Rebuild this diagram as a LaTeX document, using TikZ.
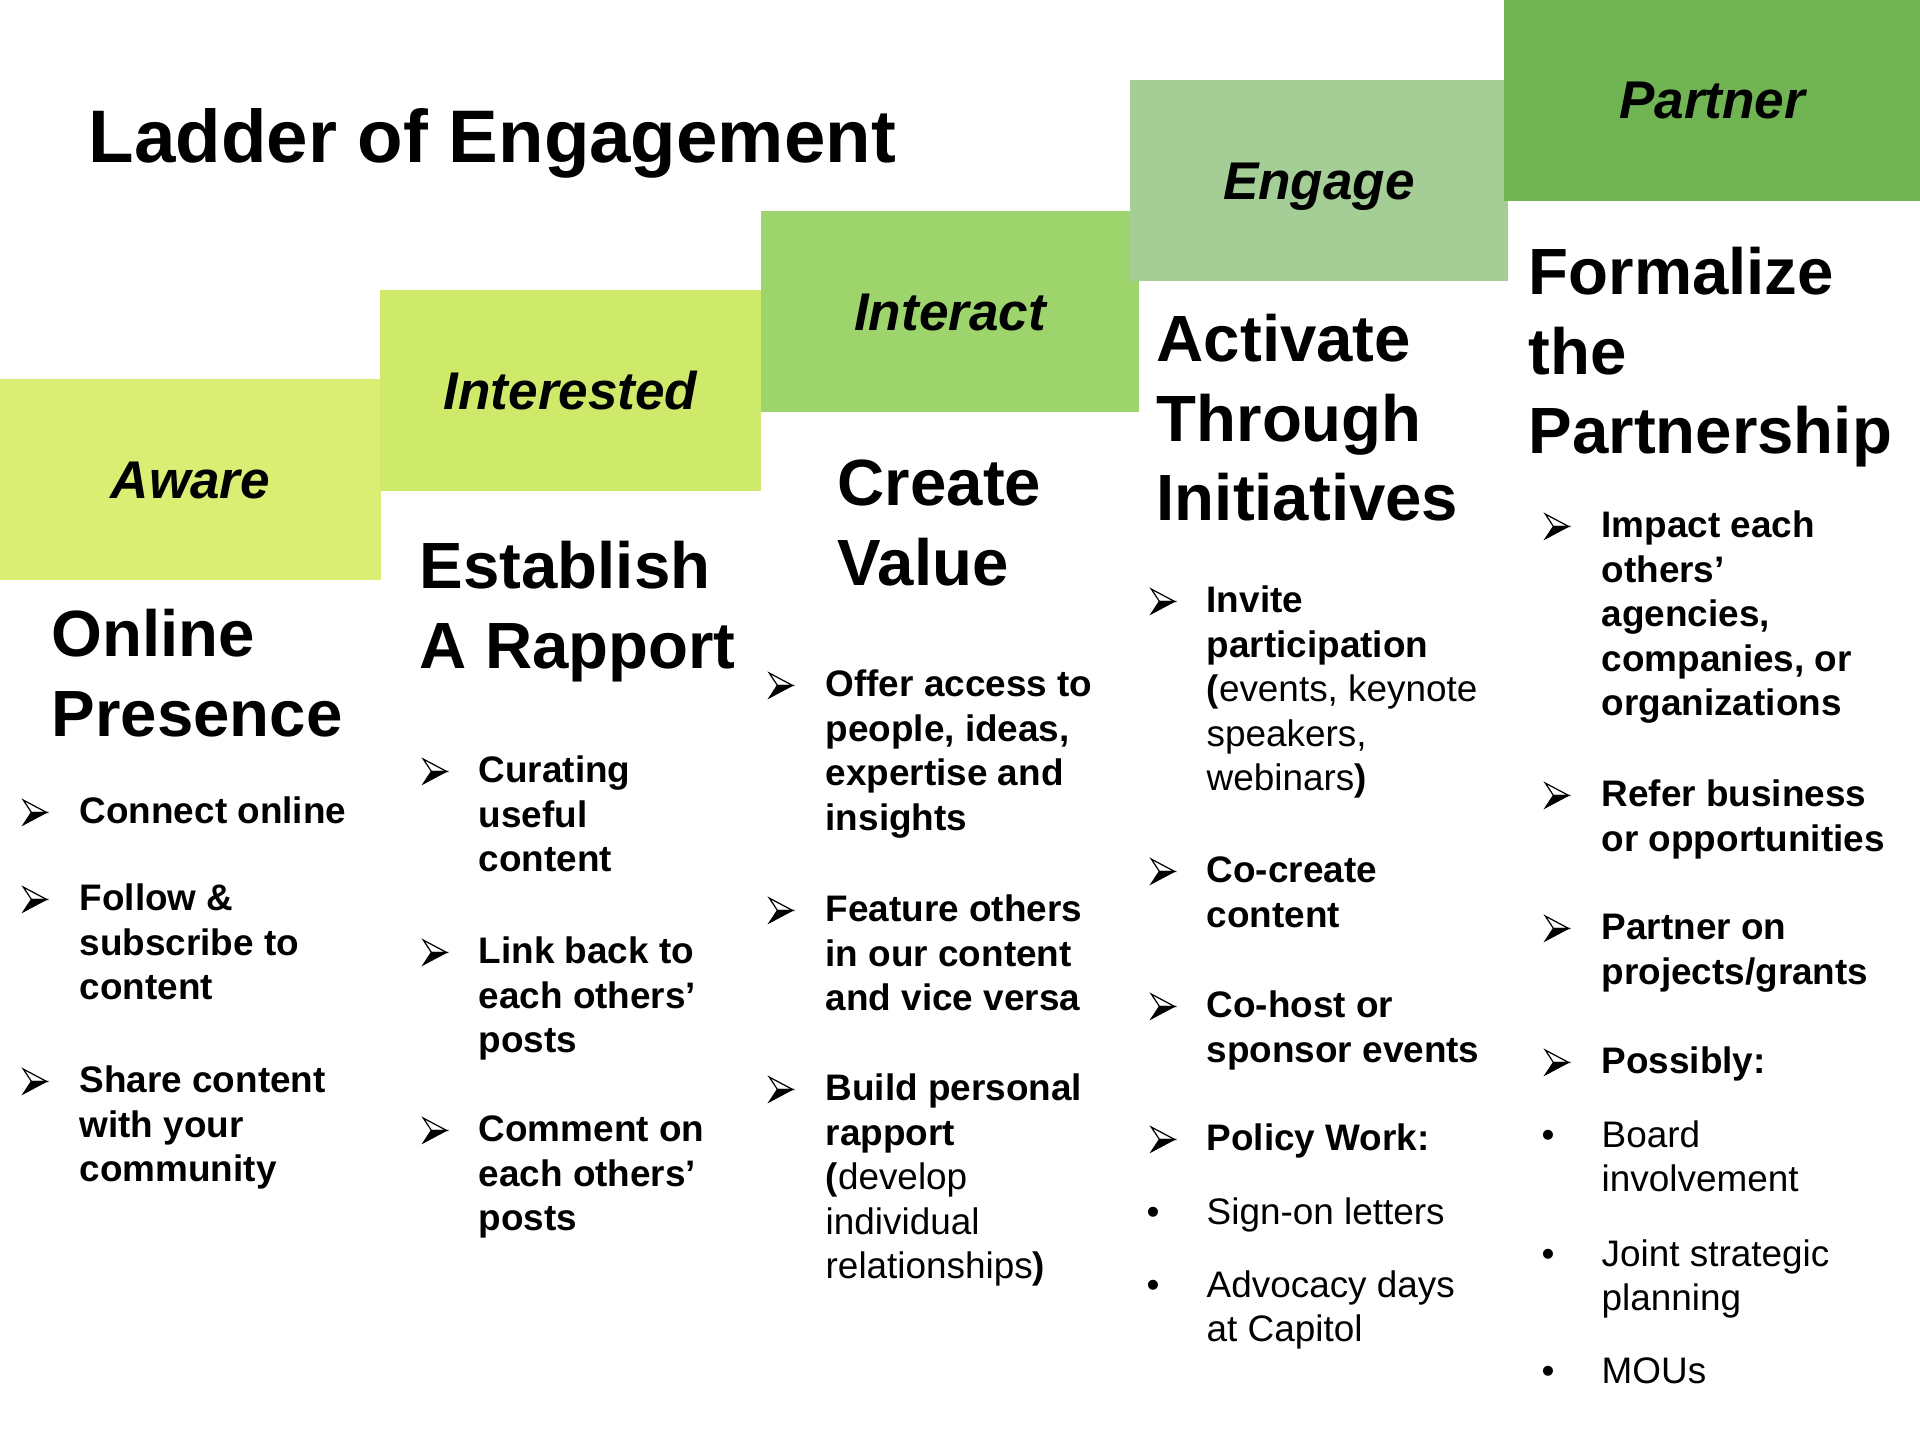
\documentclass[tikz,border=0pt]{standalone}
\usepackage{fontspec}
\setmainfont{Liberation Sans}
\usepackage{tikz}

\definecolor{awaregreen}{RGB}{218,238,115}
\definecolor{interestedgreen}{RGB}{207,234,107}
\definecolor{interactgreen}{RGB}{157,212,108}
\definecolor{engagegreen}{RGB}{165,205,150}
\definecolor{partnergreen}{RGB}{113,180,84}

% lines stacked under the first one, which carries the baseline
\newcommand{\stack}[1]{\begin{tabular}[t]{@{}l@{}}#1\end{tabular}}
% arrowhead bullet: light upper half, dark lower half
\newcommand{\pointer}{\tikz[x=1pt,y=1pt,baseline=0pt]{%
    \filldraw[fill=white, line width=0.35pt, line join=miter] (0,6.8) -- (6.6,3.3) -- (2.3,3.3) -- cycle;
    \filldraw[line width=0.35pt, line join=miter] (0,-0.2) -- (6.6,3.3) -- (2.3,3.3) -- cycle;}}

\tikzset{
  stepbox/.style={rectangle, inner sep=0pt, minimum height=20.1mm,
    font=\bfseries\itshape\fontsize{15.1}{18}\selectfont,
    text height=10.8pt, text depth=0pt},
  headline/.style={anchor=base west, inner sep=0pt,
    font=\bfseries\fontsize{18.6}{22.5}\selectfont},
  entry/.style={anchor=base west, inner sep=0pt,
    font=\bfseries\fontsize{10.5}{12.66}\selectfont},
  plainentry/.style={entry, font=\fontsize{10.5}{12.66}\selectfont},
  arrowmark/.style={anchor=base west, inner sep=0pt},
  bulletmark/.style={anchor=base west, inner sep=0pt,
    font=\fontsize{10.5}{12.66}\selectfont},
}

\begin{document}
\begin{tikzpicture}[x=0.1mm,y=-0.1mm]
    % Page
    \fill[white] (0,0) rectangle (1920,1440);
    \useasboundingbox (0,0) rectangle (1920,1440);

    % Title
    \node[anchor=base west, inner sep=0pt, font=\bfseries\fontsize{21.2}{25}\selectfont]
        (title) at (88,163) {Ladder of Engagement};

    % Steps, each one laid over the one before
    \node[stepbox, fill=awaregreen, minimum width=38.1mm] (aware) at (190.5,479.5) {Aware};
    \node[stepbox, fill=interestedgreen, minimum width=38.1mm] (interested) at (570.5,390.5) {Interested};
    \node[stepbox, fill=interactgreen, minimum width=37.8mm] (interact) at (950,311.5) {Interact};
    \node[stepbox, fill=engagegreen, minimum width=37.8mm] (engage) at (1319,180.5) {Engage};
    \node[stepbox, fill=partnergreen, minimum width=41.6mm, minimum height=20.2mm] (partner) at (1712,100) {Partner};

    % Aware
    \node[headline] (head1) at (51,657) {\stack{Online\\Presence}};
    \node[arrowmark] (m11) at (22,824) {\pointer};
    \node[entry] (t11) at (79,824) {Connect online};
    \node[arrowmark] (m12) at (22,911) {\pointer};
    \node[entry] (t12) at (79,911) {\stack{Follow \&\\subscribe to\\content}};
    \node[arrowmark] (m13) at (22,1093) {\pointer};
    \node[entry] (t13) at (79,1093) {\stack{Share content\\with your\\community}};

    % Interested
    \node[headline] (head2) at (419,589) {\stack{Establish\\A Rapport}};
    \node[arrowmark] (m21) at (422,783) {\pointer};
    \node[entry] (t21) at (478,783) {\stack{Curating\\useful\\content}};
    \node[arrowmark] (m22) at (422,964) {\pointer};
    \node[entry] (t22) at (478,964) {\stack{Link back to\\each others’\\posts}};
    \node[arrowmark] (m23) at (422,1142) {\pointer};
    \node[entry] (t23) at (478,1142) {\stack{Comment on\\each others’\\posts}};

    % Interact
    \node[headline] (head3) at (837,506) {\stack{Create\\Value}};
    \node[arrowmark] (m31) at (768,697) {\pointer};
    \node[entry] (t31) at (825,697) {\stack{Offer access to\\people, ideas,\\expertise and\\insights}};
    \node[arrowmark] (m32) at (768,922) {\pointer};
    \node[entry] (t32) at (825,922) {\stack{Feature others\\in our content\\and vice versa}};
    \node[arrowmark] (m33) at (768,1101) {\pointer};
    \node[entry] (t33) at (825,1101) {\stack{Build personal\\rapport\\({\mdseries develop}\\{\mdseries individual}\\{\mdseries relationships})}};

    % Engage
    \node[headline] (head4) at (1156,362) {\stack{Activate\\Through\\Initiatives}};
    \node[arrowmark] (m41) at (1150,613) {\pointer};
    \node[entry] (t41) at (1206,613) {\stack{Invite\\participation\\({\mdseries events, keynote}\\{\mdseries speakers,}\\{\mdseries webinars})}};
    \node[arrowmark] (m42) at (1150,883) {\pointer};
    \node[entry] (t42) at (1206,883) {\stack{Co-create\\content}};
    \node[arrowmark] (m43) at (1150,1018) {\pointer};
    \node[entry] (t43) at (1206,1018) {\stack{Co-host or\\sponsor events}};
    \node[arrowmark] (m44) at (1150,1151) {\pointer};
    \node[entry] (t44) at (1206,1151) {Policy Work:};
    \node[bulletmark] (b41) at (1146,1225) {•};
    \node[plainentry] (p41) at (1206,1225) {Sign-on letters};
    \node[bulletmark] (b42) at (1146,1297) {•};
    \node[plainentry] (p42) at (1206,1297) {\stack{Advocacy days\\at Capitol}};

    % Partner
    \node[headline] (head5) at (1528,295) {\stack{Formalize\\the\\Partnership}};
    \node[arrowmark] (m51) at (1544,538) {\pointer};
    \node[entry] (t51) at (1601,538) {\stack{Impact each\\others’\\agencies,\\companies, or\\organizations}};
    \node[arrowmark] (m52) at (1544,807) {\pointer};
    \node[entry] (t52) at (1601,807) {\stack{Refer business\\or opportunities}};
    \node[arrowmark] (m53) at (1544,940) {\pointer};
    \node[entry] (t53) at (1601,940) {\stack{Partner on\\projects/grants}};
    \node[arrowmark] (m54) at (1544,1074) {\pointer};
    \node[entry] (t54) at (1601,1074) {Possibly:};
    \node[bulletmark] (b51) at (1541,1147) {•};
    \node[plainentry] (p51) at (1601,1147) {\stack{Board\\involvement}};
    \node[bulletmark] (b52) at (1541,1266) {•};
    \node[plainentry] (p52) at (1601,1266) {\stack{Joint strategic\\planning}};
    \node[bulletmark] (b53) at (1541,1383) {•};
    \node[plainentry] (p53) at (1601,1383) {MOUs};
\end{tikzpicture}
\end{document}
